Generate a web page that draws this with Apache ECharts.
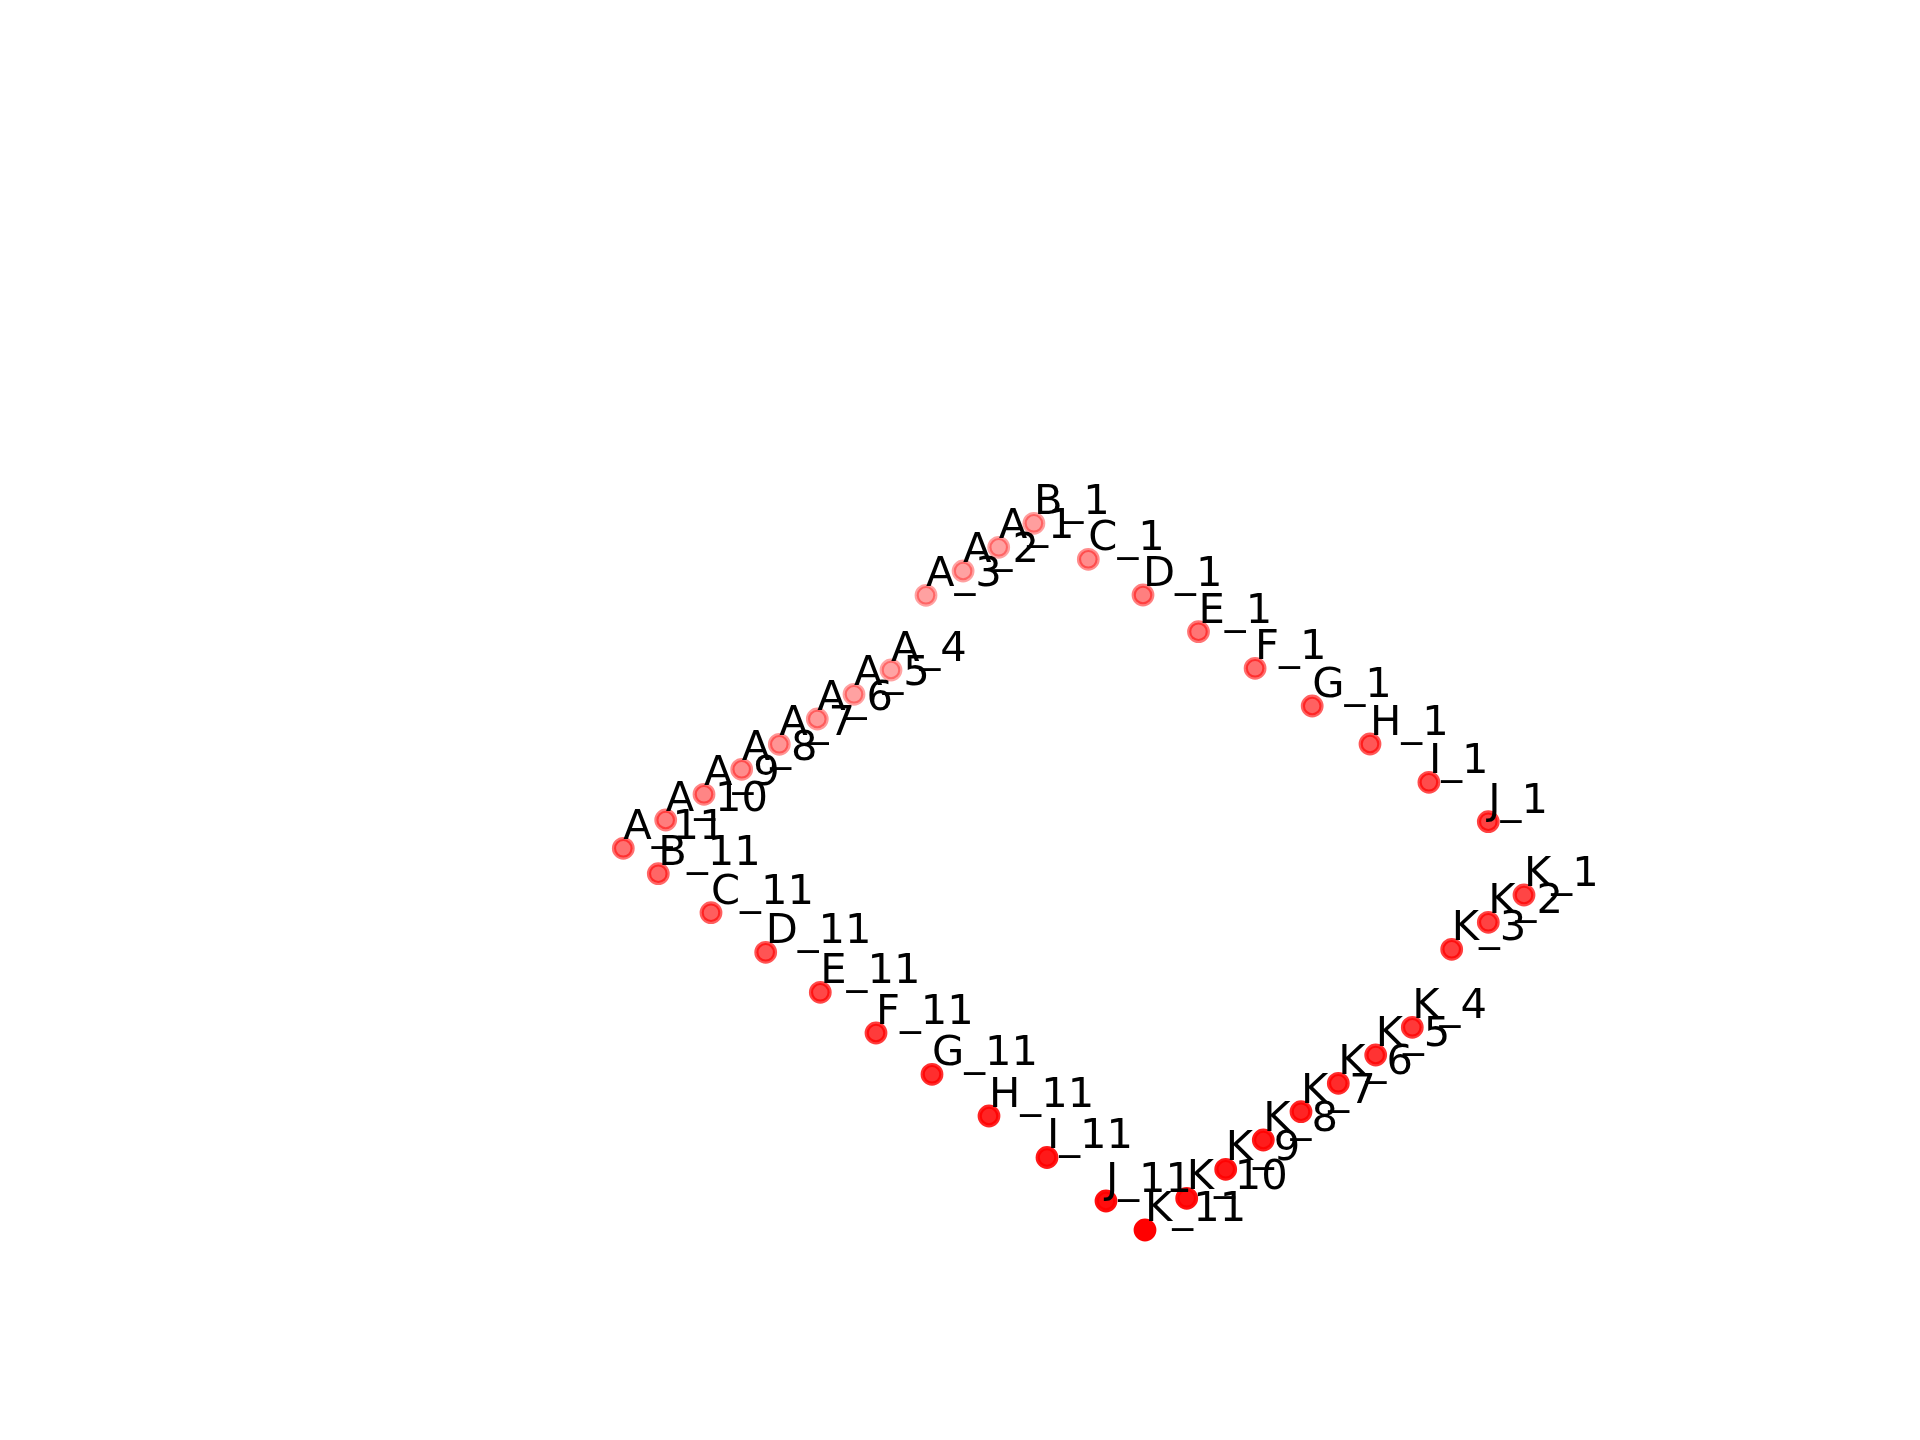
<!DOCTYPE html>
<html>
<head>
<meta charset="utf-8">
<script src="https://cdn.jsdelivr.net/npm/echarts@6/dist/echarts.min.js"></script>
<style>
html,body{margin:0;padding:0;background:#fff;}
#chart{width:1920px;height:1440px;}
</style>
</head>
<body>
<div id="chart"></div>
<script>
// Point names (grid border nodes)
const names = [
  'A_1','A_2','A_3','A_4','A_5','A_6','A_7','A_8','A_9','A_10','A_11',
  'B_1','C_1','D_1','E_1','F_1','G_1','H_1','I_1','J_1',
  'K_1','K_2','K_3','K_4','K_5','K_6','K_7','K_8','K_9','K_10','K_11',
  'B_11','C_11','D_11','E_11','F_11','G_11','H_11','I_11','J_11'
];
// Projected horizontal position
const xs = [
  998.7, 963.1, 926.0, 891.0, 854.0, 817.3, 779.3, 741.7, 704.0, 665.7, 623.3,
  1033.9, 1088.3, 1143.0, 1198.5, 1255.1, 1312.2, 1370.0, 1428.9, 1488.3,
  1524.0, 1488.3, 1451.7, 1412.3, 1375.7, 1338.3, 1301.0, 1263.3, 1225.7, 1186.7, 1145.0,
  658.3, 711.0, 765.7, 820.3, 876.0, 932.0, 989.0, 1047.0, 1106.0
];
// Projected vertical position (downwards)
const ys = [
  547.3, 571.0, 595.3, 670.0, 694.3, 719.0, 744.3, 769.3, 794.3, 820.0, 848.3,
  523.3, 559.3, 595.0, 631.7, 668.3, 706.0, 744.0, 782.3, 821.7,
  895.0, 922.3, 949.3, 1027.3, 1055.0, 1083.3, 1111.7, 1140.0, 1169.3, 1198.3, 1230.0,
  873.7, 912.7, 952.3, 992.3, 1033.0, 1074.3, 1116.0, 1157.5, 1201.0
];
// Depth shading (opacity)
const shade = [
  0.37, 0.37, 0.37, 0.36, 0.37, 0.40, 0.42, 0.45, 0.48, 0.51, 0.56,
  0.38, 0.45, 0.50, 0.54, 0.57, 0.62, 0.66, 0.70, 0.74,
  0.73, 0.74, 0.76, 0.78, 0.80, 0.83, 0.86, 0.89, 0.91, 0.94, 1.00,
  0.60, 0.63, 0.67, 0.72, 0.77, 0.82, 0.86, 0.90, 0.95
];

const idx = names.map((n, i) => i).sort((a, b) => shade[a] - shade[b]);
const data = idx.map(i => ({
  name: names[i],
  value: [xs[i], ys[i]],
  itemStyle: {
    color: 'rgba(255,0,0,' + shade[i] + ')',
    borderColor: 'rgba(255,0,0,' + shade[i] + ')'
  }
}));

const chart = echarts.init(document.getElementById('chart'), null, {renderer: 'canvas'});
chart.setOption({
  backgroundColor: '#ffffff',
  animation: false,
  grid: {left: 0, right: 0, top: 0, bottom: 0},
  xAxis: {type: 'value', min: 0, max: 1920, show: false},
  yAxis: {type: 'value', min: 0, max: 1440, inverse: true, show: false},
  series: [{
    type: 'scatter',
    symbol: 'circle',
    symbolSize: 18.6,
    itemStyle: {borderWidth: 4.2, opacity: 1},
    label: {
      show: true,
      position: 'inside',
      align: 'left',
      verticalAlign: 'middle',
      offset: [0, -20],
      color: '#000',
      fontFamily: 'DejaVu Sans',
      fontSize: 41.67,
      formatter: p => p.name
    },
    emphasis: {disabled: true},
    data: data
  }]
});
</script>
</body>
</html>
